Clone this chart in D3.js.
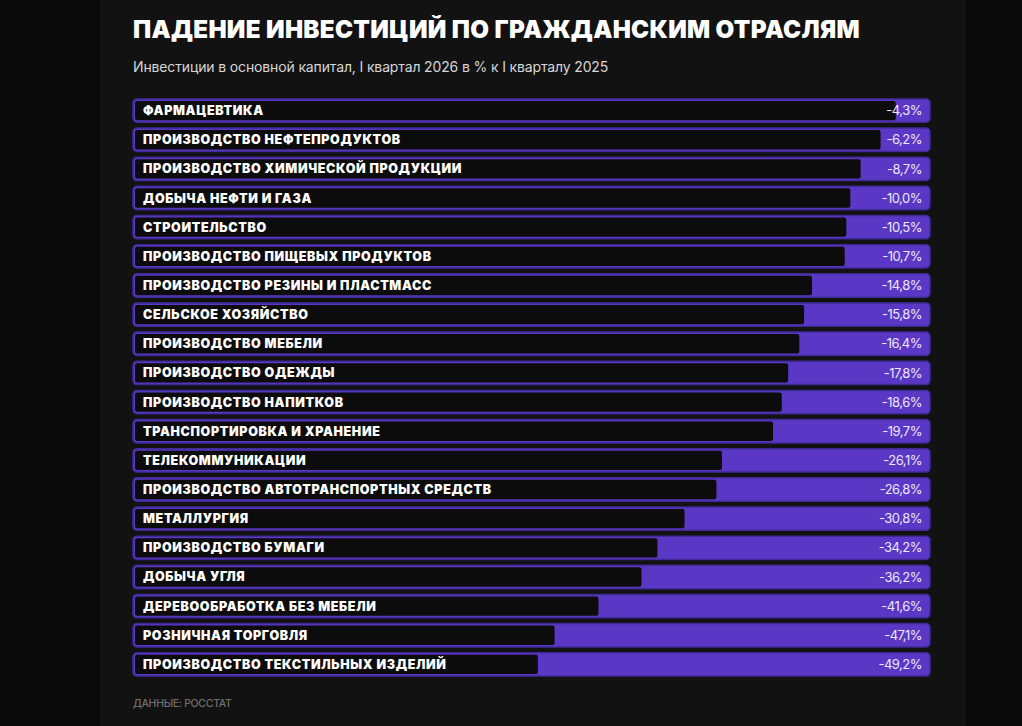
<!DOCTYPE html>
<html>
<head>
<meta charset="utf-8">
<script src="https://cdn.jsdelivr.net/npm/d3@7"></script>
<style>
  html, body { margin: 0; padding: 0; background: #0a0a0a; }
  svg { display: block; }
</style>
</head>
<body>
<div id="chart"></div>
<script>
// отрасли и падение инвестиций, %
const categories = [
  'ФАРМАЦЕВТИКА',
  'ПРОИЗВОДСТВО НЕФТЕПРОДУКТОВ',
  'ПРОИЗВОДСТВО ХИМИЧЕСКОЙ ПРОДУКЦИИ',
  'ДОБЫЧА НЕФТИ И ГАЗА',
  'СТРОИТЕЛЬСТВО',
  'ПРОИЗВОДСТВО ПИЩЕВЫХ ПРОДУКТОВ',
  'ПРОИЗВОДСТВО РЕЗИНЫ И ПЛАСТМАСС',
  'СЕЛЬСКОЕ ХОЗЯЙСТВО',
  'ПРОИЗВОДСТВО МЕБЕЛИ',
  'ПРОИЗВОДСТВО ОДЕЖДЫ',
  'ПРОИЗВОДСТВО НАПИТКОВ',
  'ТРАНСПОРТИРОВКА И ХРАНЕНИЕ',
  'ТЕЛЕКОММУНИКАЦИИ',
  'ПРОИЗВОДСТВО АВТОТРАНСПОРТНЫХ СРЕДСТВ',
  'МЕТАЛЛУРГИЯ',
  'ПРОИЗВОДСТВО БУМАГИ',
  'ДОБЫЧА УГЛЯ',
  'ДЕРЕВООБРАБОТКА БЕЗ МЕБЕЛИ',
  'РОЗНИЧНАЯ ТОРГОВЛЯ',
  'ПРОИЗВОДСТВО ТЕКСТИЛЬНЫХ ИЗДЕЛИЙ'
]
const values = [-4.3, -6.2, -8.7, -10.0, -10.5, -10.7, -14.8, -15.8, -16.4, -17.8,
                -18.6, -19.7, -26.1, -26.8, -30.8, -34.2, -36.2, -41.6, -47.1, -49.2]

const titleText = 'ПАДЕНИЕ ИНВЕСТИЦИЙ ПО ГРАЖДАНСКИМ ОТРАСЛЯМ'
const subtitleText = 'Инвестиции в основной капитал, I квартал 2026 в % к I кварталу 2025'
const sourceText = 'ДАННЫЕ: РОССТАТ'

const width = 1022,
      height = 726,
      plotLeft = 133,
      plotRight = 930,
      plotTop = 96,
      plotBottom = 679

const purple = '#5b37c6'
const fmt = v => d3.format('.1f')(v).replace('.', ',').replace('−', '-') + '%'

const data = categories.map((name, i) => ({ name, value: values[i] }))

const svg = d3.select('#chart').append('svg')
  .attr('width', width)
  .attr('height', height)

svg.append('rect').attr('width', width).attr('height', height).attr('fill', '#0a0a0a')
svg.append('rect').attr('x', 100).attr('width', 866).attr('height', height).attr('fill', '#121212')

// шкалы
const y = d3.scaleBand()
  .domain(categories)
  .range([plotTop, plotBottom])
  .paddingInner(0.2)
  .paddingOuter(0.1)

const x = d3.scaleLinear()
  .domain([0, 100])
  .range([0, plotRight - plotLeft])

// заголовки
svg.append('text')
  .attr('x', plotLeft).attr('y', 38)
  .attr('fill', '#ffffff')
  .style('font', '900 24.2px Inter, "DejaVu Sans", sans-serif')
  .style('letter-spacing', '0.3px')
  .text(titleText)

svg.append('text')
  .attr('x', plotLeft).attr('y', 72)
  .attr('fill', '#d6d6d6')
  .style('font', '400 14px Inter, "DejaVu Sans", sans-serif')
  .style('letter-spacing', '-0.14px')
  .text(subtitleText)

svg.append('text')
  .attr('x', plotLeft).attr('y', 707)
  .attr('fill', '#6f6f6f')
  .style('font', '500 10.5px Inter, "DejaVu Sans", sans-serif')
  .style('letter-spacing', '-0.3px')
  .text(sourceText)

// строки
const rows = svg.append('g').attr('id', 'rows')
  .selectAll('.row')
  .data(data).enter()
  .append('g')
  .attr('class', 'row')
  .attr('transform', d => `translate(${plotLeft}, ${y(d.name)})`)

rows.append('rect')
  .attr('width', plotRight - plotLeft)
  .attr('height', y.bandwidth())
  .attr('rx', 4)
  .attr('fill', purple)
  .attr('stroke', '#3f2b96')
  .attr('stroke-width', 1.5)

rows.append('rect')
  .attr('x', 2)
  .attr('y', 2)
  .attr('width', d => x(100 + d.value) - 2)
  .attr('height', y.bandwidth() - 4)
  .attr('rx', 2)
  .attr('fill', '#0c0c0c')

rows.append('text')
  .attr('x', 10)
  .attr('y', y.bandwidth() / 2)
  .attr('dy', '0.36em')
  .attr('fill', '#ffffff')
  .style('font', '900 12.5px Inter, "DejaVu Sans", sans-serif')
  .style('letter-spacing', '0.65px')
  .text(d => d.name)

rows.append('text')
  .attr('x', plotRight - plotLeft - 8)
  .attr('y', y.bandwidth() / 2)
  .attr('dy', '0.36em')
  .attr('text-anchor', 'end')
  .attr('fill', '#ece8f8')
  .style('font', '400 13px Inter, "DejaVu Sans", sans-serif')
  .style('letter-spacing', '-0.5px')
  .text(d => fmt(d.value))
</script>
</body>
</html>
